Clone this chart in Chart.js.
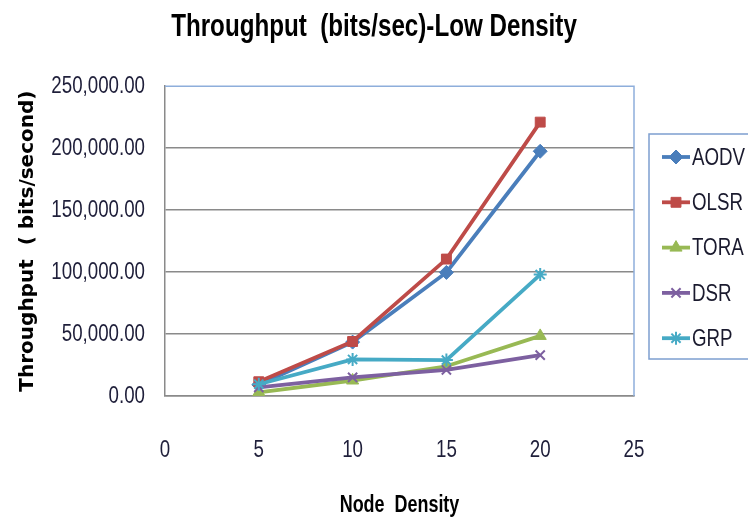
<!DOCTYPE html>
<html>
<head>
<meta charset="utf-8">
<script src="https://cdn.jsdelivr.net/npm/chart.js@4.4.1/dist/chart.umd.min.js"></script>
<style>
  html, body { margin: 0; padding: 0; background: #ffffff; }
  #wrap { width: 748px; height: 522px; position: relative; }
</style>
</head>
<body>
<div id="wrap"><canvas id="c" width="748" height="522"></canvas></div>
<script>
// ---- data ----
const nodeDensity = [5, 10, 15, 20];
const seriesNames = ["AODV", "OLSR", "TORA", "DSR", "GRP"];
const aodv = [9000, 43500, 99700, 197500];
const olsr = [11500, 44000, 110500, 221000];
const tora = [3000, 12500, 24000, 48500];
const dsr  = [7000, 15000, 21000, 33000];
const grp  = [9500, 29500, 29000, 98000];
const xTicks = [0, 5, 10, 15, 20, 25];
const yTicks = [0, 50000, 100000, 150000, 200000, 250000];

const chartTitle = "Throughput  (bits/sec)-Low Density";
const xTitle = "Node  Density";
const yTitle = "Throughput  ( bits/second)";

// Calibri-like narrow look: Liberation Sans drawn horizontally condensed
const NARROW = '"Liberation Sans", Arial, sans-serif';
const CONDENSE = 0.78;
const _origFill = CanvasRenderingContext2D.prototype.fillText;
CanvasRenderingContext2D.prototype.fillText = function (text, x, y, maxWidth) {
  if (String(this.font).indexOf("Liberation Sans") === -1) {
    return _origFill.apply(this, arguments);
  }
  this.save();
  this.translate(x, y);
  this.scale(CONDENSE, 1);
  if (maxWidth !== undefined && maxWidth !== null && isFinite(maxWidth)) {
    _origFill.call(this, text, 0, 0, maxWidth / CONDENSE);
  } else {
    _origFill.call(this, text, 0, 0);
  }
  this.restore();
};

const colors = ["#4a7ebb", "#be4b48", "#98b954", "#7d60a0", "#46aac5"];
const styles = ["rectRot", "rect", "triangle", "crossRot", "star"];
const radii = [7, 7, 7, 6.5, 6.5];
const values = [aodv, olsr, tora, dsr, grp];

const datasets = seriesNames.map((name, i) => ({
  label: name,
  data: nodeDensity.map((x, j) => ({ x: x, y: values[i][j] })),
  borderColor: colors[i],
  backgroundColor: colors[i],
  pointBackgroundColor: colors[i],
  pointBorderColor: colors[i],
  pointStyle: styles[i],
  pointRadius: radii[i],
  pointBorderWidth: (styles[i] === "crossRot" || styles[i] === "star") ? 2 : 1,
  borderWidth: 3.8,
  tension: 0,
  fill: false,
  order: seriesNames.length - i
}));

const borderPlugin = {
  id: "plotBorder",
  afterDatasetsDraw(chart) {
    const a = chart.chartArea, ctx = chart.ctx;
    ctx.save();
    ctx.strokeStyle = "#8eaedb";
    ctx.lineWidth = 1.5;
    ctx.beginPath();
    ctx.moveTo(a.left, a.top);
    ctx.lineTo(a.right, a.top);
    ctx.lineTo(a.right, a.bottom);
    ctx.stroke();
    ctx.restore();
  }
};

const legendPlugin = {
  id: "boxLegend",
  afterDraw(chart) {
    const ctx = chart.ctx;
    const bx = 649, by = 134, bw = 120, bh = 225;
    ctx.save();
    ctx.strokeStyle = "#7d9fd0";
    ctx.lineWidth = 1.5;
    ctx.strokeRect(bx, by, bw, bh);
    const y0 = 157, step = 45.3;
    chart.data.datasets.forEach((ds, i) => {
      const y = y0 + i * step;
      ctx.strokeStyle = ds.borderColor;
      ctx.lineWidth = 3.8;
      ctx.beginPath();
      ctx.moveTo(662, y);
      ctx.lineTo(690, y);
      ctx.stroke();
      ctx.fillStyle = ds.borderColor;
      ctx.strokeStyle = ds.borderColor;
      ctx.lineWidth = ds.pointBorderWidth;
      Chart.helpers.drawPoint(ctx, {
        pointStyle: ds.pointStyle,
        radius: ds.pointRadius,
        borderWidth: ds.pointBorderWidth,
        rotation: 0
      }, 676, y);
      ctx.fillStyle = "#1a1a2e";
      ctx.font = "24px " + NARROW;
      ctx.textAlign = "left";
      ctx.textBaseline = "middle";
      ctx.fillText(ds.label, 692, y + 1);
    });
    ctx.restore();
  }
};

new Chart(document.getElementById("c"), {
  type: "line",
  data: { datasets: datasets },
  options: {
    responsive: false,
    animation: false,
    devicePixelRatio: 1,
    layout: { padding: 0 },
    plugins: {
      legend: { display: false },
      tooltip: { enabled: false },
      title: {
        display: true,
        text: chartTitle,
        color: "#000000",
        font: { family: NARROW, size: 31, weight: "bold" },
        padding: { top: 9, bottom: 40 }
      }
    },
    scales: {
      x: {
        type: "linear",
        min: 0,
        max: 25,
        afterBuildTicks(scale) { scale.ticks = xTicks.map(v => ({ value: v })); },
        afterFit(scale) { scale.height = 126; },
        grid: { display: false, drawTicks: false },
        border: { display: true, color: "#8a8a8a", width: 1.5 },
        ticks: {
          color: "#1f1f3a",
          font: { family: NARROW, size: 24 },
          padding: 40,
          maxRotation: 0
        },
        title: {
          display: true,
          text: xTitle,
          color: "#000000",
          font: { family: NARROW, size: 23, weight: "bold" },
          padding: { top: 3, bottom: 3 }
        }
      },
      y: {
        min: 0,
        max: 250000,
        afterBuildTicks(scale) { scale.ticks = yTicks.map(v => ({ value: v })); },
        afterFit(scale) { scale.width = 165; },
        grid: {
          drawTicks: false,
          color: (c) => (c.tick && c.tick.value === 250000) ? "rgba(0,0,0,0)" : "#8a8a8a",
          lineWidth: 1.5
        },
        border: { display: true, color: "#8a8a8a", width: 1.5 },
        ticks: {
          color: "#1f1f3a",
          font: { family: NARROW, size: 24 },
          padding: 20,
          callback: (v) => Number(v).toLocaleString("en-US", { minimumFractionDigits: 2, maximumFractionDigits: 2 })
        },
        title: {
          display: true,
          text: yTitle,
          color: "#000000",
          font: { family: '"DejaVu Sans", sans-serif', size: 20, weight: "bold" },
          padding: { top: 16, bottom: 4 }
        }
      },
      yRightSpace: {
        position: "right",
        display: true,
        min: 0,
        max: 250000,
        afterFit(scale) { scale.width = 114; },
        grid: { display: false, drawTicks: false },
        border: { display: false },
        ticks: { display: false }
      }
    }
  },
  plugins: [borderPlugin, legendPlugin]
});
</script>
</body>
</html>
